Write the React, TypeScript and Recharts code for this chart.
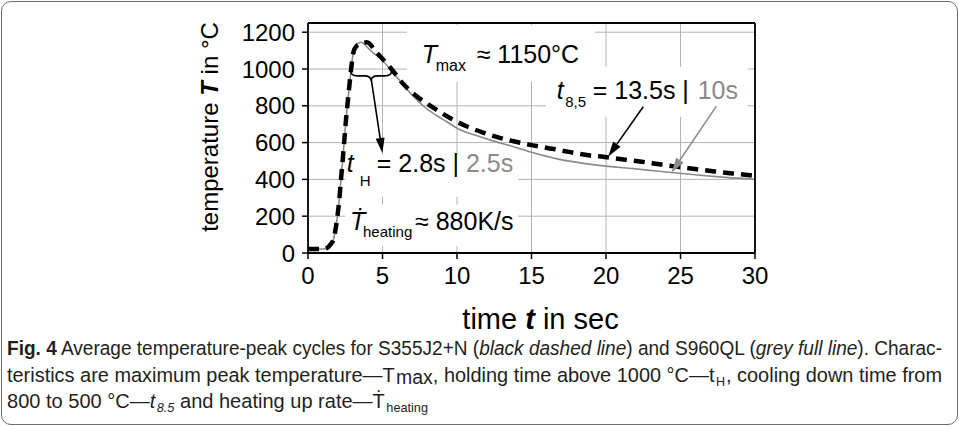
import React from 'react'
import { LineChart, Line, XAxis, YAxis, CartesianGrid, ReferenceArea, ReferenceDot, ReferenceLine, Label } from 'recharts'

const FONT = "'Liberation Sans', Arial, Helvetica, sans-serif"
const CAPTION_FONT = "'Liberation Sans Narrow', 'Liberation Sans', Arial, sans-serif"
const GREY = '#8a8a8a'
const THIN = 0.01

// axis ticks
const majorTimes = [0, 5, 10, 15, 20, 25, 30]
const minorTimes = [0, 1, 2, 3, 4, 5, 6, 7, 8, 9, 10, 11, 12, 13, 14, 15, 16, 17, 18, 19, 20, 21, 22, 23, 24, 25, 26, 27, 28, 29, 30]
const majorTemps = [0, 200, 400, 600, 800, 1000, 1200]
const minorTemps = [0, 40, 80, 120, 160, 200, 240, 280, 320, 360, 400, 440, 480, 520, 560, 600, 640, 680, 720, 760, 800, 840, 880, 920, 960, 1000, 1040, 1080, 1120, 1160, 1200]

// S355J2+N, black dashed line
const s355Time = [0, 0.5, 1.0, 1.3, 1.5, 1.7, 1.88, 2.0, 2.1, 2.21, 2.33, 2.44, 2.55, 2.66, 2.77, 2.89, 3.0, 3.1, 3.38, 3.7, 3.95, 4.6, 5.6, 6.4, 7.3, 8.4, 9.5, 10.6, 11.7, 12.7, 13.8, 15.1, 16.5, 17.6, 18.7, 19.9, 21.2, 22.4, 23.6, 24.85, 26.1, 27.3, 28.5, 30]
const s355Temp = [22, 22, 22, 28, 45, 72, 145, 217, 290, 398, 507, 616, 725, 816, 906, 997, 1069, 1105, 1133, 1142, 1145, 1090, 1000, 918, 852, 790, 735, 690, 656, 630, 607, 585, 565, 548, 532, 522, 508, 496, 482, 468, 455, 443, 432, 420]

// S960QL, grey full line
const s960Time = [0, 1.0, 1.3, 1.5, 1.7, 1.88, 2.0, 2.1, 2.21, 2.33, 2.44, 2.55, 2.66, 2.77, 2.89, 3.0, 3.1, 3.3, 3.55, 4.2, 5.05, 5.72, 6.85, 7.9, 9.08, 10.2, 11.3, 12.3, 13.7, 15.0, 16.8, 18.5, 20.0, 21.4, 23.2, 24.4, 26.5, 28, 30]
const s960Temp = [22, 22, 28, 45, 72, 145, 217, 290, 398, 507, 616, 725, 816, 906, 997, 1069, 1105, 1135, 1145, 1100, 1042, 979, 870, 788, 725, 670, 638, 612, 580, 547, 510, 487, 472, 462, 447, 437, 421, 411, 401]

const s355 = s355Time.map((t, i) => ({ t, T: s355Temp[i] }))
const s960 = s960Time.map((t, i) => ({ t, T: s960Temp[i] }))

const arrow = (color: string) => (p: any) => {
  const { x1, y1, x2, y2 } = p
  const a = Math.atan2(y2 - y1, x2 - x1)
  const L = 15
  const W = 4.5
  const bx = x2 - L * Math.cos(a)
  const by = y2 - L * Math.sin(a)
  const nx = -Math.sin(a) * W
  const ny = Math.cos(a) * W
  return (
    <g>
      <line x1={x1} y1={y1} x2={bx} y2={by} stroke={color} strokeWidth={1.6} />
      <polygon points={`${x2},${y2} ${bx + nx},${by + ny} ${bx - nx},${by - ny}`} fill={color} />
    </g>
  )
}

const brace = (p: any) => {
  const { x1, y1, x2 } = p
  const m = (x1 + x2) / 2
  const y = y1
  const d = `M${x1},${y} Q${x1},${y + 5} ${x1 + 7},${y + 5} L${m - 7},${y + 5} Q${m},${y + 5} ${m},${y + 10} Q${m},${y + 5} ${m + 7},${y + 5} L${x2 - 7},${y + 5} Q${x2},${y + 5} ${x2},${y}`
  return <path d={d} fill="none" stroke="#000" strokeWidth={1.6} />
}

const TmaxText = ({ cx, cy }: any) => (
  <text x={cx} y={cy} fontFamily={FONT} fontSize={25} fill="#000">
    <tspan fontStyle="italic">T</tspan>
    <tspan x={cx + 14} dy={8} fontSize={16}>max</tspan>
    <tspan x={cx + 55} dy={-8}>≈ 1150°C</tspan>
  </text>
)

const T85Text = ({ cx, cy }: any) => (
  <text x={cx} y={cy} fontFamily={FONT} fontSize={25} fill="#000">
    <tspan fontStyle="italic">t</tspan>
    <tspan x={cx + 8.5} dy={8} fontSize={15}>8,5</tspan>
    <tspan x={cx + 36} dy={-8}>= 13.5s |</tspan>
    <tspan x={cx + 141} fill={GREY}>10s</tspan>
  </text>
)

const THText = ({ cx, cy }: any) => (
  <text x={cx} y={cy} fontFamily={FONT} fontSize={25} fill="#000">
    <tspan fontStyle="italic">t</tspan>
    <tspan x={cx + 13} dy={14} fontSize={15}>H</tspan>
    <tspan x={cx + 30} dy={-14}>{'= 2.8s | '}</tspan>
    <tspan fill={GREY}>2.5s</tspan>
  </text>
)

const THeatText = ({ cx, cy }: any) => (
  <text x={cx} y={cy} fontFamily={FONT} fontSize={25} fill="#000">
    <tspan fontStyle="italic">Ṫ</tspan>
    <tspan x={cx + 13} dy={7} fontSize={15}>heating</tspan>
    <tspan x={cx + 65} dy={-7}>≈ 880K/s</tspan>
  </text>
)

const YTitle = (props: any) => {
  const vb = props.viewBox || { x: 308, y: 23, width: 0, height: 230 }
  const x = vb.x + vb.width - 90
  const y = vb.y + vb.height / 2 - 11
  return (
    <text x={x} y={y} transform={`rotate(-90 ${x} ${y})`} textAnchor="middle" fontFamily={FONT} fontSize={24} fill="#000">
      temperature <tspan fontStyle="italic" fontWeight="bold">T</tspan> in °C
    </text>
  )
}

const XTitle = (props: any) => {
  const vb = props.viewBox || { x: 308, y: 253, width: 447, height: 0 }
  const x = vb.x + vb.width / 2 + 9
  const y = vb.y + 76
  return (
    <text x={x} y={y} textAnchor="middle" fontFamily={FONT} fontSize={29} fill="#000">
      time <tspan fontStyle="italic" fontWeight="bold">t</tspan> in sec
    </text>
  )
}

const tickFont = { fontSize: 24, fill: '#000', fontFamily: FONT }
const tl = { stroke: '#000', strokeWidth: 1.5 }
const al = { stroke: '#000', strokeWidth: 1.8 }

const Caption = () => (
  <svg width={959} height={90} style={{ position: 'absolute', left: 0, top: 334 }}>
    <g fontFamily={CAPTION_FONT} fontStretch="condensed" fontSize={20.5} fill="#231f20">
      <text x={7} y={21} textLength={935} lengthAdjust="spacingAndGlyphs">
        <tspan fontWeight="bold">Fig. 4</tspan>  Average temperature-peak cycles for S355J2+N (<tspan fontStyle="italic">black dashed line</tspan>) and S960QL (<tspan fontStyle="italic">grey full line</tspan>). Charac-
      </text>
      <text x={7} y={48} textLength={935} lengthAdjust="spacingAndGlyphs">
        teristics are maximum peak temperature—T<tspan fontSize={20} dx={1.5} dy={2}>max</tspan><tspan dy={-2}>, holding time above 1000 °C—t</tspan><tspan fontSize={13} dx={1.5} dy={4}>H</tspan><tspan dx={1} dy={-4}>, cooling down time from</tspan>
      </text>
      <text x={7} y={74} textLength={421} lengthAdjust="spacingAndGlyphs">
        800 to 500 °C—<tspan fontStyle="italic">t</tspan><tspan fontStyle="italic" fontSize={13} dx={1.5} dy={4}>8.5</tspan><tspan dy={-4}> and heating up rate—Ṫ</tspan><tspan fontSize={13} dx={1.5} dy={4}>heating</tspan>
      </text>
    </g>
  </svg>
)

export default function App() {
  return (
    <div style={{ position: 'absolute', left: 0, top: 0, width: 959, height: 426, background: '#fff' }}>
      <div style={{ position: 'absolute', left: 1, top: 1, width: 955, height: 422, border: '1.3px solid #6d6d6d', borderRadius: 10 }} />
      <div style={{ position: 'absolute', left: 0, top: 0 }}>
        <LineChart width={959} height={340} margin={{ top: 23, right: 204, bottom: 87, left: 308 }}>
          <CartesianGrid xAxisId="x" yAxisId="y" stroke="#b4b4b4" strokeWidth={1} />
          <XAxis xAxisId="x" dataKey="t" type="number" domain={[0, 30]} allowDataOverflow ticks={majorTimes} interval={0} height={THIN} tickSize={6} tickMargin={8} tick={tickFont} tickLine={tl} axisLine={al}>
            <Label content={<XTitle />} />
          </XAxis>
          {/* tick-only axes for the frame */}
          <XAxis xAxisId="xMin" type="number" domain={[0, 30]} allowDataOverflow ticks={minorTimes} interval={0} height={THIN} tick={false} tickSize={4} tickLine={tl} axisLine={false} />
          <XAxis xAxisId="xIn" type="number" domain={[0, 30]} allowDataOverflow ticks={majorTimes} interval={0} height={THIN} mirror tick={false} tickSize={6} tickLine={tl} axisLine={false} />
          <XAxis xAxisId="xTop" orientation="top" type="number" domain={[0, 30]} allowDataOverflow ticks={majorTimes} interval={0} height={THIN} mirror tick={false} tickSize={8} tickLine={tl} axisLine={al} />
          <XAxis xAxisId="xTopMin" orientation="top" type="number" domain={[0, 30]} allowDataOverflow ticks={minorTimes} interval={0} height={THIN} mirror tick={false} tickSize={4} tickLine={tl} axisLine={false} />
          <YAxis yAxisId="y" type="number" domain={[0, 1250]} allowDataOverflow ticks={majorTemps} interval={0} width={THIN} tickSize={6} tickMargin={7} tick={tickFont} tickLine={tl} axisLine={al}>
            <Label content={<YTitle />} />
          </YAxis>
          <YAxis yAxisId="yMin" type="number" domain={[0, 1250]} allowDataOverflow ticks={minorTemps} interval={0} width={THIN} tick={false} tickSize={4} tickLine={tl} axisLine={false} />
          <YAxis yAxisId="yIn" type="number" domain={[0, 1250]} allowDataOverflow ticks={majorTemps} interval={0} width={THIN} mirror tick={false} tickSize={6} tickLine={tl} axisLine={false} />
          <YAxis yAxisId="yRight" orientation="right" type="number" domain={[0, 1250]} allowDataOverflow ticks={majorTemps} interval={0} width={THIN} mirror tick={false} tickSize={8} tickLine={tl} axisLine={al} />
          <YAxis yAxisId="yRightMin" orientation="right" type="number" domain={[0, 1250]} allowDataOverflow ticks={minorTemps} interval={0} width={THIN} mirror tick={false} tickSize={4} tickLine={tl} axisLine={false} />

          {/* white boxes behind the annotations */}
          <ReferenceArea xAxisId="x" yAxisId="y" x1={6.64} x2={19.26} y1={931} y2={1238} fill="#fff" fillOpacity={1} stroke="none" />
          <ReferenceArea xAxisId="x" yAxisId="y" x1={15.97} x2={29.5} y1={741} y2={1012} fill="#fff" fillOpacity={1} stroke="none" />
          <ReferenceArea xAxisId="x" yAxisId="y" x1={2.5} x2={14.1} y1={306} y2={534} fill="#fff" fillOpacity={1} stroke="none" />
          <ReferenceArea xAxisId="x" yAxisId="y" x1={2.5} x2={14.1} y1={36} y2={262} fill="#fff" fillOpacity={1} stroke="none" />

          <Line xAxisId="x" yAxisId="y" data={s960} dataKey="T" type="monotone" stroke={GREY} strokeWidth={1.6} dot={false} isAnimationActive={false} />
          <Line xAxisId="x" yAxisId="y" data={s355} dataKey="T" type="monotone" stroke="#000" strokeWidth={4.5} strokeDasharray="11 7" dot={false} isAnimationActive={false} />

          <ReferenceLine xAxisId="x" yAxisId="y" segment={[{ x: 2.85, y: 990 }, { x: 5.62, y: 990 }]} shape={brace} />
          <ReferenceLine xAxisId="x" yAxisId="y" segment={[{ x: 4.23, y: 952 }, { x: 4.99, y: 544 }]} shape={arrow('#000')} />
          <ReferenceLine xAxisId="x" yAxisId="y" segment={[{ x: 22.5, y: 795 }, { x: 20.15, y: 525 }]} shape={arrow('#000')} />
          <ReferenceLine xAxisId="x" yAxisId="y" segment={[{ x: 27.4, y: 797 }, { x: 24.4, y: 437 }]} shape={arrow(GREY)} />

          <ReferenceDot xAxisId="x" yAxisId="y" x={7.63} y={1032} shape={<TmaxText />} />
          <ReferenceDot xAxisId="x" yAxisId="y" x={16.69} y={838} shape={<T85Text />} />
          <ReferenceDot xAxisId="x" yAxisId="y" x={2.6} y={440} shape={<THText />} />
          <ReferenceDot xAxisId="x" yAxisId="y" x={2.82} y={127} shape={<THeatText />} />
        </LineChart>
      </div>
      <Caption />
    </div>
  )
}
